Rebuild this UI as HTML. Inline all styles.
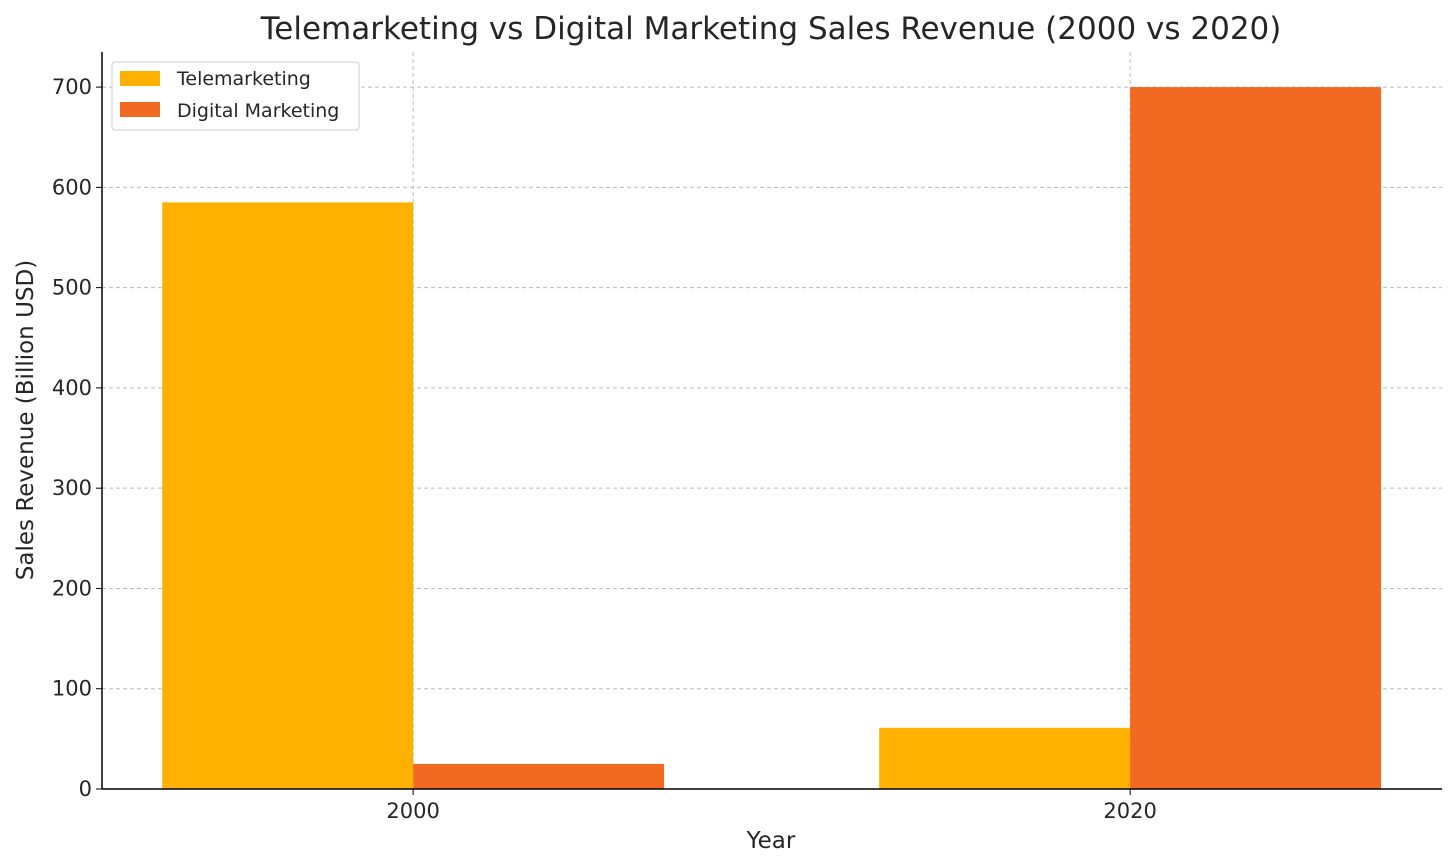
<!DOCTYPE html>
<html><head><meta charset="utf-8"><style>
body{margin:0;background:#fff;}
svg{display:block;font-family:"DejaVu Sans","Liberation Sans",sans-serif;}
</style></head><body>
<svg id="chart" width="1456" height="868">
<text x="771" y="39" text-anchor="middle" font-size="31" fill="#262626">Telemarketing vs Digital Marketing Sales Revenue (2000 vs 2020)</text>
<g id="grid"></g><g id="bars"></g><g id="axes"></g>
<text x="771" y="848" text-anchor="middle" font-size="23" fill="#262626">Year</text>
<text transform="translate(33,420) rotate(-90)" text-anchor="middle" font-size="23" fill="#262626">Sales Revenue (Billion USD)</text>
<g>
<rect x="112" y="62" width="247" height="68" rx="3" fill="#fff" stroke="#ccc"/>
<rect x="120" y="71" width="40" height="15" fill="#FFB000"/>
<text x="177" y="85" font-size="19" fill="#262626">Telemarketing</text>
<rect x="120" y="102" width="40" height="15" fill="#F26A21"/>
<text x="177" y="117" font-size="19" fill="#262626">Digital Marketing</text>
</g>
</svg>
<script>
const categories=["2000","2020"];
const telemarketing=[585,61];
const digitalMarketing=[25,700];
const yTicks=[0,100,200,300,400,500,600,700];
const NS="http://www.w3.org/2000/svg";
const L=102,R=1442,T=52,B=789,yMax=735,xMin=-0.434,xMax=1.435,bw=0.35;
const xs=v=>L+(v-xMin)/(xMax-xMin)*(R-L);
const ys=v=>B-v/yMax*(B-T);
function mk(tag,attrs,parent){const e=document.createElementNS(NS,tag);for(const k in attrs)e.setAttribute(k,attrs[k]);document.getElementById(parent).appendChild(e);return e;}
yTicks.forEach(t=>{
 const y=ys(t);
 if(t>0){const g=mk('line',{x1:L,x2:R,y1:y,y2:y,stroke:'#bbb','stroke-dasharray':'4,3','stroke-width':1},'grid');
 
 }
 const tk=mk('line',{x1:L-6,x2:L,y1:y,y2:y,stroke:'#000'},'axes');
 
 
 const tx=mk('text',{x:L-10,y:y+7,'text-anchor':'end','font-size':21,fill:'#262626'},'axes');tx.textContent=t;
 
 
});
categories.forEach((c,i)=>{
 const x=xs(i);
 const g=mk('line',{x1:x,x2:x,y1:T,y2:B,stroke:'#bbb','stroke-dasharray':'4,3'},'grid');
 
 
 const tk=mk('line',{x1:x,x2:x,y1:B,y2:B+6,stroke:'#000'},'axes');
 
 
 const tx=mk('text',{x:x,y:B+29,'text-anchor':'middle','font-size':21,fill:'#262626'},'axes');tx.textContent=c;
 
 
 const b1=mk('rect',{x:xs(i-bw),y:ys(telemarketing[i]),width:xs(i)-xs(i-bw),height:B-ys(telemarketing[i]),fill:'#FFB000'},'bars');
 
 
 const b2=mk('rect',{x:xs(i),y:ys(digitalMarketing[i]),width:xs(i+bw)-xs(i),height:B-ys(digitalMarketing[i]),fill:'#F26A21'},'bars');
 
 
});
const la=mk('line',{x1:L,x2:L,y1:T,y2:B,stroke:'#000','stroke-width':1.5},'axes');


const lb=mk('line',{x1:L,x2:R,y1:B,y2:B,stroke:'#000','stroke-width':1.5},'axes');


</script>
</body></html>
